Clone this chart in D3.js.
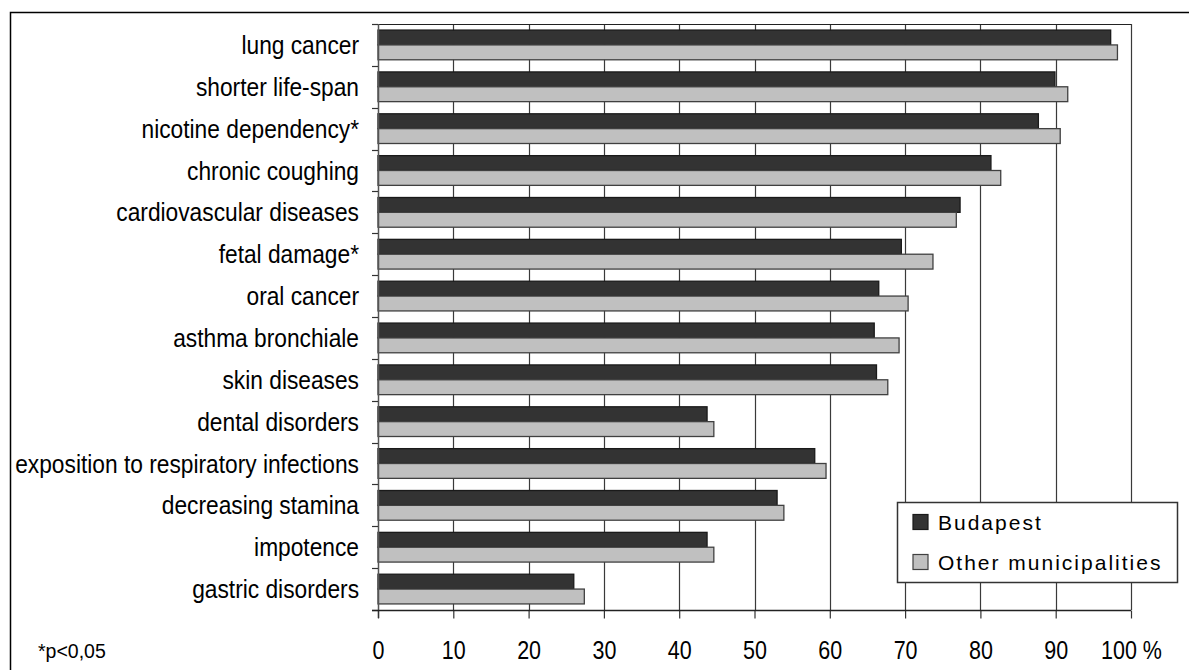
<!DOCTYPE html>
<html>
<head>
<meta charset="utf-8">
<script src="https://cdn.jsdelivr.net/npm/d3@7"></script>
<style>
  html, body { margin: 0; padding: 0; background: #fff; }
  svg { display: block; }
  text { font-family: "Liberation Sans", Arial, sans-serif; fill: #000; }
</style>
</head>
<body>
<svg id="chart" width="1189" height="670"></svg>
<script>
// Perceived health consequences of smoking (% of respondents)
const categories = [
  "lung cancer",
  "shorter life-span",
  "nicotine dependency*",
  "chronic coughing",
  "cardiovascular diseases",
  "fetal damage*",
  "oral cancer",
  "asthma bronchiale",
  "skin diseases",
  "dental disorders",
  "exposition to respiratory infections",
  "decreasing stamina",
  "impotence",
  "gastric disorders"
];
const seriesNames = ["Budapest", "Other municipalities"];
const budapest = [97.3, 89.9, 87.7, 81.4, 77.3, 69.5, 66.5, 65.9, 66.2, 43.7, 58.0, 53.0, 43.7, 26.0];
const otherMunicipalities = [98.2, 91.6, 90.6, 82.7, 76.8, 73.7, 70.4, 69.2, 67.7, 44.6, 59.5, 53.9, 44.6, 27.4];
const xTicks = [0, 10, 20, 30, 40, 50, 60, 70, 80, 90, 100];
const footnote = "*p<0,05";

const seriesValues = [budapest, otherMunicipalities];
const fills = ["#333333", "#c0c0c0"];
const strokes = ["#1a1a1a", "#404040"];

const svg = d3.select("#chart");
const plot = { left: 378, right: 1131, top: 24, bottom: 610 };

// outer frame
svg.append("rect")
  .attr("x", 10.5).attr("y", 12.5)
  .attr("width", 1200).attr("height", 700)
  .attr("fill", "none").attr("stroke", "#000").attr("stroke-width", 1.5);

const x = d3.scaleLinear().domain([0, 100]).range([plot.left, plot.right]);
const y = d3.scaleBand().domain(categories).range([plot.top, plot.bottom])
  .paddingInner(0.29).paddingOuter(0.145);
const ySub = d3.scaleBand().domain(seriesNames).range([0, y.bandwidth()]);
const step = y.step();

// vertical gridlines
svg.append("g").selectAll("line")
  .data(xTicks.filter(d => d > 0))
  .join("line")
  .attr("x1", d => Math.round(x(d)) + 0.5).attr("x2", d => Math.round(x(d)) + 0.5)
  .attr("y1", plot.top).attr("y2", plot.bottom)
  .attr("stroke", "#3a3a3a").attr("stroke-width", 1.2);

// top edge of plot
svg.append("line")
  .attr("x1", plot.left).attr("x2", plot.right)
  .attr("y1", plot.top + 0.5).attr("y2", plot.top + 0.5)
  .attr("stroke", "#222").attr("stroke-width", 1.2);

// bars
const groups = svg.append("g").selectAll("g")
  .data(categories)
  .join("g")
  .attr("transform", d => `translate(0,${y(d)})`);

groups.selectAll("rect")
  .data((d, i) => seriesNames.map((s, j) => ({ s, j, v: seriesValues[j][i] })))
  .join("rect")
  .attr("x", plot.left)
  .attr("y", d => ySub(d.s))
  .attr("width", d => x(d.v) - x(0))
  .attr("height", ySub.bandwidth())
  .attr("fill", d => fills[d.j])
  .attr("stroke", d => strokes[d.j])
  .attr("stroke-width", 1.3);

// category axis (left)
const yAxisG = svg.append("g");
yAxisG.append("line")
  .attr("x1", plot.left + 0.5).attr("x2", plot.left + 0.5)
  .attr("y1", plot.top).attr("y2", plot.bottom + 8)
  .attr("stroke", "#555").attr("stroke-width", 1.5);
yAxisG.selectAll("line.tick")
  .data(d3.range(categories.length + 1))
  .join("line").attr("class", "tick")
  .attr("x1", plot.left - 6).attr("x2", plot.left)
  .attr("y1", i => Math.round(plot.top + i * step) + 0.5)
  .attr("y2", i => Math.round(plot.top + i * step) + 0.5)
  .attr("stroke", "#333").attr("stroke-width", 1.2);
yAxisG.selectAll("text")
  .data(categories)
  .join("text")
  .attr("transform", d => `translate(359,${y(d) + y.bandwidth() / 2}) scale(0.91,1)`)
  .attr("dy", "0.36em")
  .attr("text-anchor", "end")
  .style("font-size", "25px")
  .text(d => d);

// value axis (bottom)
const xAxis = d3.axisBottom(x)
  .tickValues(xTicks)
  .tickSize(8)
  .tickFormat(d => d === 100 ? "100 %" : String(d));
const xAxisG = svg.append("g")
  .attr("transform", `translate(0,${plot.bottom + 0.5})`)
  .call(xAxis);
xAxisG.select(".domain").remove();
xAxisG.append("line")
  .attr("x1", plot.left - 6).attr("x2", plot.right)
  .attr("stroke", "#222").attr("stroke-width", 1.5);
xAxisG.selectAll(".tick line").attr("stroke", "#333").attr("stroke-width", 1.2);
xAxisG.selectAll(".tick text")
  .attr("y", 0)
  .attr("dy", 0)
  .attr("transform", "translate(0,48) scale(0.86,1)")
  .style("font-family", "'Liberation Sans', Arial, sans-serif")
  .style("font-size", "25px")
  .attr("fill", "#000");

// footnote
svg.append("text")
  .attr("x", 38).attr("y", 658)
  .style("font-size", "19.5px")
  .text(footnote);

// legend
const legend = svg.append("g");
legend.append("rect")
  .attr("x", 897.5).attr("y", 502.5)
  .attr("width", 280).attr("height", 80)
  .attr("fill", "#fff").attr("stroke", "#333").attr("stroke-width", 1.5);
const legendItems = legend.selectAll("g")
  .data(seriesNames)
  .join("g")
  .attr("transform", (d, i) => `translate(913,${522 + i * 40})`);
legendItems.append("rect")
  .attr("x", 0).attr("y", -7.5)
  .attr("width", 15).attr("height", 15)
  .attr("fill", (d, i) => fills[i])
  .attr("stroke", (d, i) => strokes[i]).attr("stroke-width", 1.2);
legendItems.append("text")
  .attr("x", 25).attr("y", 0)
  .attr("dy", "0.36em")
  .style("font-size", "21px")
  .style("letter-spacing", "2px")
  .text(d => d);
</script>
</body>
</html>
